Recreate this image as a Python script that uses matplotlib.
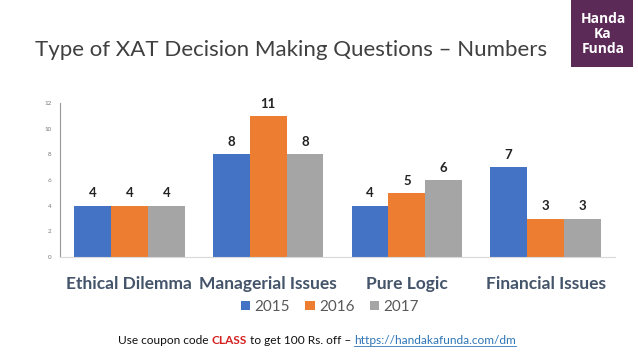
import matplotlib
matplotlib.use("Agg")
import matplotlib.pyplot as plt
import numpy as np

categories = ["Ethical Dilemma", "Managerial Issues", "Pure Logic", "Financial Issues"]
series_names = ["2015", "2016", "2017"]
values_2015 = [4, 8, 4, 7]
values_2016 = [4, 11, 5, 3]
values_2017 = [4, 8, 6, 3]
y_ticks = [0, 2, 4, 6, 8, 10, 12]

colors = ["#4472C4", "#ED7D31", "#A5A5A5"]
FONT = ["Lato", "DejaVu Sans"]

fig = plt.figure(figsize=(6.38, 3.59), dpi=100)
ax = fig.add_axes([60/638, 1-257/359, (615-60)/638, (257-103)/359])

x = np.arange(len(categories))
w = 0.266
all_vals = [values_2015, values_2016, values_2017]
handles = []
for i, (vals, c, name) in enumerate(zip(all_vals, colors, series_names)):
    bars = ax.bar(x + (i-1)*w, vals, width=w, color=c, label=name, edgecolor="none")
    handles.append(bars)
    for xi, v in zip(x + (i-1)*w, vals):
        ax.annotate(str(v), (xi, v), xytext=(0, 4.5), textcoords="offset points",
                    ha="center", va="bottom", fontsize=9.5, fontweight="bold",
                    color="#222222", family=FONT)

ax.set_xlim(-0.5, 3.5)
ax.set_ylim(0, 12)
ax.set_yticks(y_ticks)
ax.set_yticklabels([str(t) for t in y_ticks], fontsize=4.5, color="#777777", family=FONT)
ax.tick_params(axis="y", length=0, pad=6)
ax.set_xticks(x)
ax.set_xticklabels(categories, fontsize=12.5, fontweight="bold", color="#44546A", family=FONT)
ax.tick_params(axis="x", length=0, pad=14)
for s in ["top", "right"]:
    ax.spines[s].set_visible(False)
ax.spines["left"].set_color("#999999")
ax.spines["left"].set_linewidth(0.8)
ax.spines["bottom"].set_color("#D9D9D9")
ax.spines["bottom"].set_linewidth(0.8)

leg = fig.legend(handles=handles, labels=series_names, loc="center", bbox_to_anchor=(330/638, 1-307/359),
                 ncol=3, frameon=False, handlelength=0.6, handleheight=0.6,
                 handletextpad=0.3, columnspacing=1.0, prop={"family": FONT, "size": 11})
for t in leg.get_texts():
    t.set_color("#595959")

fig.text(35/638, 1-50/359, "Type of XAT Decision Making Questions \u2013 Numbers",
         fontsize=16, color="#404040", family=FONT, fontweight="normal", va="center", ha="left")

# logo
logo = matplotlib.patches.Rectangle((571/638, 1-67/359), 62/638, 67/359, transform=fig.transFigure,
                                    facecolor="#5C2A57", edgecolor="none")
fig.patches.append(logo)
fig.text(603/638, 1-34/359, "Handa\nKa\nFunda", color="white", fontsize=10, fontweight="bold",
         ha="center", va="center", linespacing=1.05, family=["Open Sans", "DejaVu Sans"])

# footer
fig.canvas.draw()
r = fig.canvas.get_renderer()
parts = [("Use coupon code ", "#111111", "normal", False),
         ("CLASS", "#D32020", "bold", False),
         (" to get 100 Rs. off \u2013 ", "#111111", "normal", False),
         ("https://handakafunda.com/dm", "#2E75B6", "normal", True)]
texts = []
total = 0
for s, c, fw, ul in parts:
    t = fig.text(0, 1-340/359, s, color=c, fontweight=fw, fontsize=8.6, family=FONT, va="center", ha="left")
    bb = t.get_window_extent(renderer=r)
    texts.append((t, bb.width, ul))
    total += bb.width
start = 317 - total/2
xpos = start
for t, wd, ul in texts:
    t.set_x(xpos/638)
    if ul:
        fig.add_artist(matplotlib.lines.Line2D([xpos/638, (xpos+wd)/638], [1-346/359, 1-346/359],
                                               color="#2E75B6", lw=0.6, transform=fig.transFigure))
    xpos += wd

fig.savefig("out.png", dpi=100)
